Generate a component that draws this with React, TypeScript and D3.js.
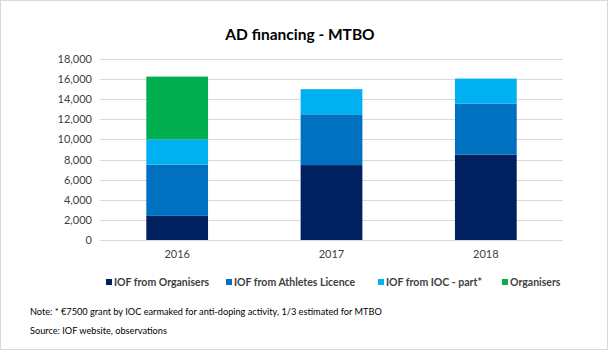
import React from "react";
import * as d3 from "d3";

const years = ["2016", "2017", "2018"];
const seriesNames = ["IOF from Organisers", "IOF from Athletes Licence", "IOF from IOC - part*", "Organisers"];
const fromOrganisers = [2400, 7450, 8500];
const fromAthletes = [5100, 5050, 5050];
const fromIOC = [2500, 2500, 2500];
const organisers = [6250, 0, 0];
const colors = ["#002060", "#0070C0", "#00B0F0", "#00B050"];
const yTicks = [0, 2000, 4000, 6000, 8000, 10000, 12000, 14000, 16000, 18000];

const W = 608, H = 350;
const font = "Lato, 'Open Sans', sans-serif";

export default function App() {
  const x = d3.scaleBand<string>().domain(years).range([100, 563]).paddingInner(0.6).paddingOuter(0.3);
  const y = d3.scaleLinear().domain([0, 18000]).range([240, 59]);
  const rows = years.map((yr, i) => ({
    year: yr,
    s0: fromOrganisers[i], s1: fromAthletes[i], s2: fromIOC[i], s3: organisers[i],
  }));
  const stack = d3.stack<any>().keys(["s0", "s1", "s2", "s3"])(rows);
  const fmt = d3.format(",");
  const legendX = [106, 226, 378, 502];
  return (
    <svg width={W} height={H} style={{ position: "absolute", left: 0, top: 0, background: "#fff" }} fontFamily={font}>
      <rect x={0.5} y={0.5} width={W - 1} height={H - 1} fill="#fff" stroke="#d9d9d9" />
      <text x={300} y={40} textAnchor="middle" fontSize={15.5} fontWeight="bold" fill="#000">AD financing - MTBO</text>
      {yTicks.map(t => (
        <g key={t}>
          <line x1={100} x2={563} y1={Math.round(y(t)) + 0.5} y2={Math.round(y(t)) + 0.5} stroke="#d9d9d9" />
          <text x={92} y={y(t) + 4} textAnchor="end" fontSize={11} fill="#404040">{fmt(t)}</text>
        </g>
      ))}
      {stack.map((layer, li) => (
        <g key={li} fill={colors[li]}>
          {layer.map((d, i) => d[1] - d[0] > 0 ? (
            <rect key={i} x={x(years[i])} width={x.bandwidth()} y={y(d[1])} height={y(d[0]) - y(d[1])} />
          ) : null)}
        </g>
      ))}
      {years.map(yr => (
        <text key={yr} x={(x(yr) as number) + x.bandwidth() / 2} y={258} textAnchor="middle" fontSize={11} fill="#404040">{yr}</text>
      ))}
      {seriesNames.map((n, i) => (
        <g key={n}>
          <rect x={legendX[i]} y={279} width={6} height={6} fill={colors[i]} />
          <text x={legendX[i] + 8} y={285.5} fontSize={10.5} fontWeight="bold" fill="#404040">{n}</text>
        </g>
      ))}
      <text x={30} y={315} fontSize={9.2} fill="#000">Note:  *  €7500 grant by IOC earmaked for anti-doping  activity, 1/3 estimated for MTBO</text>
      <text x={30} y={334} fontSize={9.2} fill="#000">Source:  IOF website, observations</text>
    </svg>
  );
}
